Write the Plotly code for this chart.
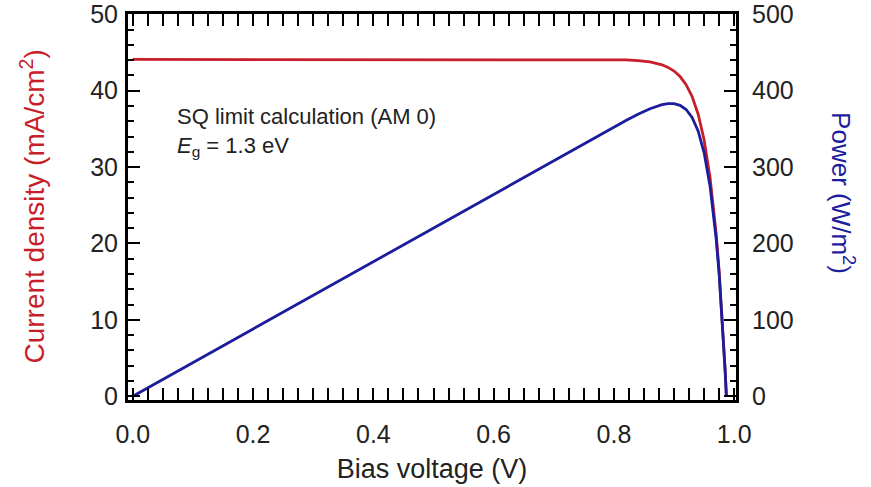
import plotly.graph_objects as go

# Bias voltage (V)
voltage = [0.0, 0.1, 0.2, 0.3, 0.4, 0.5, 0.6, 0.7, 0.8, 0.82, 0.84, 0.86, 0.88, 0.89,
           0.90, 0.91, 0.92, 0.93, 0.94, 0.95, 0.96, 0.965, 0.97, 0.975, 0.98, 0.983,
           0.985, 0.987]
# Current density (mA/cm^2)
current = [44.1, 44.1, 44.1, 44.1, 44.1, 44.1, 44.1, 44.1, 44.07, 44.03, 43.95, 43.77,
           43.4, 43.06, 42.58, 41.86, 40.8, 39.25, 36.96, 33.55, 28.56, 25.27, 21.27,
           16.36, 10.46, 6.32, 3.27, 0.0]
# Power (W/m^2)
power = [0.0, 44.1, 88.2, 132.3, 176.4, 220.5, 264.6, 308.7, 352.6, 361.0, 369.2, 376.4,
         381.9, 383.2, 383.2, 380.9, 375.4, 365.0, 347.4, 318.7, 274.2, 243.9, 206.3,
         159.5, 102.5, 62.1, 32.2, 0.0]

x_tickvals = [0.0, 0.1, 0.2, 0.3, 0.4, 0.5, 0.6, 0.7, 0.8, 0.9, 1.0]
x_ticktext = ["0.0", "", "0.2", "", "0.4", "", "0.6", "", "0.8", "", "1.0"]

RED = "#c81e2a"
BLUE = "#1c1c9c"
FONT = "Liberation Sans, Arial, sans-serif"
TXT = "#222222"

fig = go.Figure()
fig.add_trace(go.Scatter(x=voltage, y=current, mode="lines",
                         line=dict(color=RED, width=2.8), yaxis="y", showlegend=False))
fig.add_trace(go.Scatter(x=voltage, y=power, mode="lines",
                         line=dict(color=BLUE, width=2.8), yaxis="y2", showlegend=False))

axis_common = dict(showline=True, linecolor="black", linewidth=3, ticks="inside",
                   tickcolor="black", tickwidth=2, ticklen=12, showgrid=False, zeroline=False,
                   automargin=False,
                   tickfont=dict(family=FONT, size=25, color=TXT))
minor_common = dict(ticks="inside", ticklen=6, tickwidth=2, tickcolor="black")

fig.update_layout(
    width=871, height=487,
    margin=dict(l=128, r=135, t=14, b=87),
    paper_bgcolor="white", plot_bgcolor="white",
    font=dict(family=FONT),
    xaxis=dict(range=[-0.008, 1.003], tickvals=x_tickvals, ticktext=x_ticktext,
               mirror="allticks", ticklabelstandoff=10,
               minor=dict(dtick=0.025, **minor_common),
               title=dict(text="Bias voltage (V)", font=dict(family=FONT, size=27, color=TXT),
                          standoff=13),
               **axis_common),
    yaxis=dict(range=[-0.5, 50.05], dtick=10, mirror="allticks", ticklabelstandoff=2,
               minor=dict(dtick=2, **minor_common),
               **axis_common),
    yaxis2=dict(range=[-5, 500.5], dtick=100, overlaying="y", side="right",
                ticklabelstandoff=8,
                minor=dict(dtick=20, **minor_common),
                **axis_common),
)

fig.add_annotation(text="Current density (mA/cm<sup>2</sup>)", xref="paper", yref="paper",
                   x=-0.157, y=0.50, xanchor="center", yanchor="middle",
                   textangle=-90, showarrow=False,
                   font=dict(family=FONT, size=28, color=RED))
fig.add_annotation(text="Power (W/m<sup>2</sup>)", xref="paper", yref="paper",
                   x=1.175, y=0.535, xanchor="center", yanchor="middle",
                   textangle=90, showarrow=False,
                   font=dict(family=FONT, size=26, color=BLUE))
fig.add_annotation(text="SQ limit calculation (AM 0)<br><i>E</i><sub>g</sub> = 1.3 eV",
                   xref="paper", yref="paper", x=0.078, y=0.772, xanchor="left", yanchor="top",
                   align="left", showarrow=False,
                   font=dict(family=FONT, size=22, color=TXT))

fig.write_html("out.html")
